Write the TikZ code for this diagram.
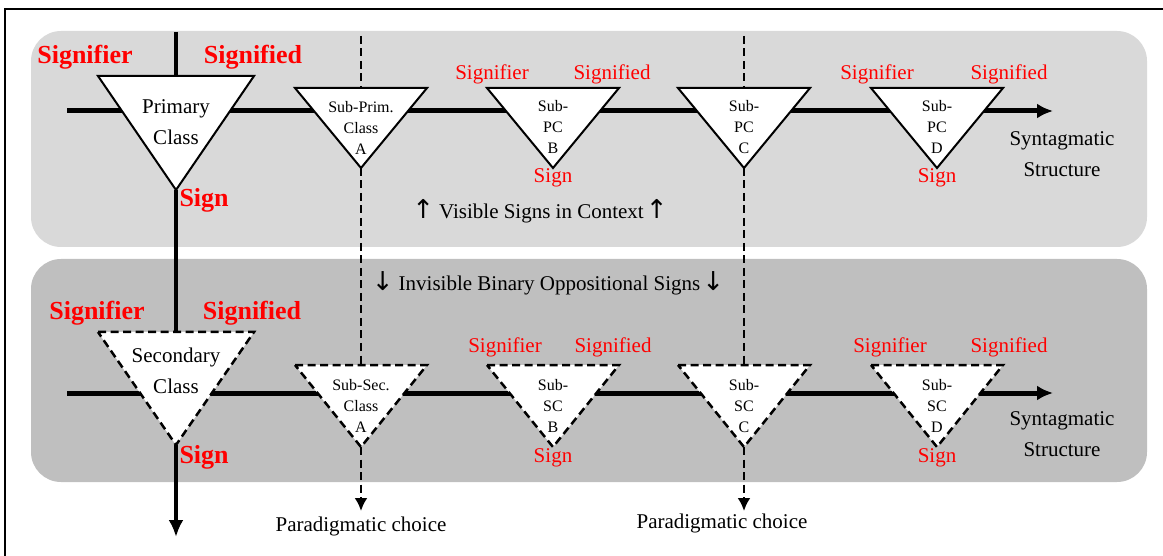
\documentclass[tikz,border=0pt]{standalone}
\usepackage{fontspec}
\setmainfont{Liberation Serif}
\newfontfamily\arrowfont{DejaVu Sans}
\usetikzlibrary{arrows.meta}

\definecolor{paneltop}{HTML}{D9D9D9}
\definecolor{panelbot}{HTML}{BFBFBF}

\tikzset{
  syntline/.style={line width=5pt,-{Latex[length=16pt,width=15pt]}},
  signline/.style={line width=4.5pt},
  choiceline/.style={line width=2.5pt,dash pattern=on 8pt off 4.5pt},
  tri/.style={draw=black,fill=white,line width=2pt,line join=miter},
  dashtri/.style={tri,line width=2.5pt,dash pattern=on 8pt off 4.5pt},
  boldlbl/.style={text=red,font=\fontsize{26}{28}\selectfont\bfseries},
  lbl/.style={text=red,font=\fontsize{21}{23}\selectfont},
  classtxt/.style={align=center,font=\fontsize{21}{31}\selectfont},
  subtxt/.style={align=center,font=\fontsize{16}{21}\selectfont},
  bodytxt/.style={align=center,font=\fontsize{21}{31}\selectfont},
}

% triangle hanging from (#2-top) down to (#2-apex)
\newcommand\drawtri[3]{\draw[#1] (#2-top) ++(-#3,0) -- ++(2*#3,0) -- (#2-apex) -- cycle;}
\newcommand\arrowsym[1]{{\arrowfont\fontsize{26}{28}\selectfont #1}}

\begin{document}
\begin{tikzpicture}[x=1pt,y=-1pt]
\useasboundingbox (0,0) rectangle (1163,556);
% panels and frame
\fill[paneltop,rounded corners=30pt] (31,31) rectangle (1147,247);
\fill[panelbot,rounded corners=30pt] (31,259) rectangle (1147,482);
\draw[line width=2pt] (5,556) -- (5,9) -- (1163,9);

% points of the triangles
\coordinate (prim-top) at (176,76);  \coordinate (prim-apex) at (176,190);
\coordinate (sec-top)  at (176,332); \coordinate (sec-apex)  at (176,445);
\foreach \n/\x in {A/361,B/553,C/744,D/937}{
  \coordinate (sp\n-top) at (\x,88);  \coordinate (sp\n-apex) at (\x,168);
  \coordinate (ss\n-top) at (\x,365); \coordinate (ss\n-apex) at (\x,447);
}
\coordinate (sig-start) at (176,32);
\coordinate (sig-end) at (176,537);
\coordinate (pcA-start) at (361,36);
\coordinate (pcC-start) at (744,36);
\coordinate (pcA-end) at (361,511);
\coordinate (pcC-end) at (744,511);
\coordinate (syn1-start) at (67,111);  \coordinate (syn1-end) at (1053,111);
\coordinate (syn2-start) at (67,393);  \coordinate (syn2-end) at (1053,393);

% syntagmatic axes
\draw[syntline] (syn1-start) -- (syn1-end);
\draw[syntline] (syn2-start) -- (syn2-end);

% sign line
\draw[signline] (sig-start) -- (prim-top);
\draw[signline] (prim-apex) -- (sec-top);
\draw[signline,-{Latex[length=17pt,width=15pt]}] (sec-apex) -- (sig-end);

% paradigmatic lines
\foreach \n in {A,C}{
  \draw[choiceline] (pc\n-start) -- (sp\n-top);
  \draw[choiceline] (sp\n-apex) -- (ss\n-top);
  \draw[choiceline,-{Latex[length=13pt,width=13pt]}] (ss\n-apex) -- (pc\n-end);
}

% triangles
\drawtri{tri}{prim}{78}
\drawtri{dashtri}{sec}{78}
\foreach \n in {A,B,C,D}{
  \drawtri{tri}{sp\n}{66}
  \drawtri{dashtri}{ss\n}{66}
}

% text in the triangles
\node[classtxt] (prim-txt) at (176,122) {Primary\\Class};
\node[classtxt] (sec-txt) at (176,371) {Secondary\\Class};
\node[subtxt] (spA-txt) at (361,128) {Sub-Prim.\\Class\\A};
\node[subtxt] (spB-txt) at (553,127) {Sub-\\PC\\B};
\node[subtxt] (spC-txt) at (744,127) {Sub-\\PC\\C};
\node[subtxt] (spD-txt) at (937,127) {Sub-\\PC\\D};
\node[subtxt] (ssA-txt) at (361,406) {Sub-Sec.\\Class\\A};
\node[subtxt] (ssB-txt) at (553,406) {Sub-\\SC\\B};
\node[subtxt] (ssC-txt) at (744,406) {Sub-\\SC\\C};
\node[subtxt] (ssD-txt) at (937,406) {Sub-\\SC\\D};

% red labels
\node[boldlbl] (prim-sr) at (85,57) {Signifier};
\node[boldlbl] (prim-sd) at (253,57) {Signified};
\node[boldlbl,anchor=west] (prim-sg) at (176,200) {Sign};
\node[boldlbl] (sec-sr) at (97,313) {Signifier};
\node[boldlbl] (sec-sd) at (252,313) {Signified};
\node[boldlbl,anchor=west] (sec-sg) at (176,457) {Sign};

\node[lbl] (spB-sr) at (492,74) {Signifier};
\node[lbl] (spB-sd) at (612,74) {Signified};
\node[lbl] (spB-sg) at (553,178) {Sign};
\node[lbl] (spD-sr) at (877,74) {Signifier};
\node[lbl] (spD-sd) at (1009,74) {Signified};
\node[lbl] (spD-sg) at (937,178) {Sign};
\node[lbl] (ssB-sr) at (505,347) {Signifier};
\node[lbl] (ssB-sd) at (613,347) {Signified};
\node[lbl] (ssB-sg) at (553,458) {Sign};
\node[lbl] (ssD-sr) at (890,347) {Signifier};
\node[lbl] (ssD-sd) at (1009,347) {Signified};
\node[lbl] (ssD-sg) at (937,458) {Sign};

% other text
\node[bodytxt] (visible) at (540,211) {\arrowsym{↑}\hspace{5pt}Visible Signs in Context\hspace{2pt}\arrowsym{↑}};
\node[bodytxt] (invisible) at (548,283) {\arrowsym{↓}\hspace{5pt}Invisible Binary Oppositional Signs\hspace{2pt}\arrowsym{↓}};
\node[bodytxt] (syn1-txt) at (1062,154) {Syntagmatic\\Structure};
\node[bodytxt] (syn2-txt) at (1062,434) {Syntagmatic\\Structure};
\node[bodytxt] (pcA-txt) at (361,526) {Paradigmatic choice};
\node[bodytxt] (pcC-txt) at (722,523) {Paradigmatic choice};
\end{tikzpicture}
\end{document}
